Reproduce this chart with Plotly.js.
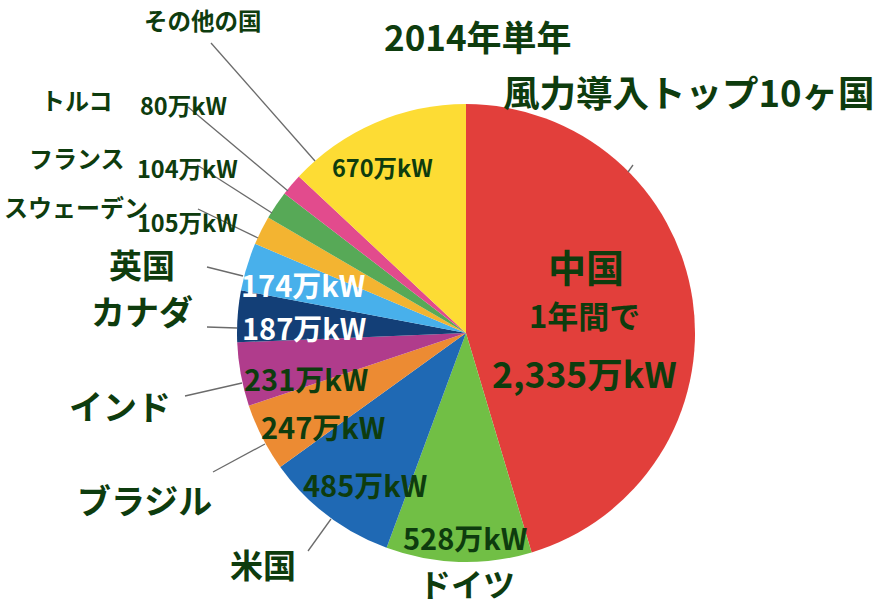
<!DOCTYPE html>
<html><head><meta charset="utf-8">
<script src="https://cdn.plot.ly/plotly-3.0.1.min.js"></script>
<style>html,body{margin:0;padding:0;background:#fff}</style>
</head><body><div id="chart" style="width:876px;height:607px"></div>
<script>
// ---- data ----
const countries = ['中国','ドイツ','米国','ブラジル','インド','カナダ','英国','スウェーデン','フランス','トルコ','その他の国'];
const values = [2335, 528, 485, 247, 231, 187, 174, 105, 104, 80, 670];
const unit = '万kW';
const titleLines = ['2014年単年', '風力導入トップ10ヶ国'];
const chinaSub = '1年間で';

// ---- styles ----
const colors = ['#E23F3B','#71BF45','#1F69B4','#EC8B33','#B03C8C','#133F77','#48B0EB','#F3B431','#57A957','#E24B8D','#FDDC34'];
const ink = '#0E3C0E';
const W = 876, H = 607;
const cx = 466, cy = 333, R = 229;

// label placement (pixel centres)
const countryPos = [null,[467,583],[263,564],[144,499],[120,405],[142,310],[142,264],[76,207],[77,157],[77,100],[203,20]];
const countrySize = [0,32,33,34,34,34,33,24,24,24,23.5];
const valuePos = [null,[465,537],[365,484],[323,426],[306,378],[304,327],[303,284],[187,222],[187,168],[183,105],[382,167]];
const valueSize = [0,29,29,29,29,29,29,23.5,23.5,23.5,23.5];
const valueColor = [ink,ink,ink,ink,ink,'#ffffff','#ffffff',ink,ink,ink,ink];
const leaders = [[[628,172],[633,165]],null,[[308,551],[331,519]],[[213,472],[265,444]],[[185,396],[242,383]],[[207,327],[237,328]],[[207,267],[243,276]],[[198,209],[258,238]],[[197,165],[272,213]],[[188,107],[288,191]],[[211,43],[315,161]]];

const px = x => x / W, py = y => 1 - y / H;
const fam = '"Noto Sans CJK JP", "Noto Sans", sans-serif';
const fmt = v => v.toLocaleString('en-US') + unit;

const annotations = [];
function addText(text, pos, size, color) {
  annotations.push({text: text, x: px(pos[0]), y: py(pos[1]), xref: 'paper', yref: 'paper',
    xanchor: 'center', yanchor: 'middle', showarrow: false,
    font: {family: fam, size: size, color: color, weight: 700}});
}
for (let i = 1; i < countries.length; i++) {
  addText(countries[i], countryPos[i], countrySize[i], ink);
  addText(fmt(values[i]), valuePos[i], valueSize[i], valueColor[i]);
}
addText(countries[0], [586, 265], 38, ink);
addText(chinaSub, [584, 314], 31, ink);
addText(fmt(values[0]), [584, 372], 35.5, ink);
addText(titleLines[0], [478, 35], 35, ink);
addText(titleLines[1], [689, 92], 36.5, ink);

const shapes = leaders.filter(Boolean).map(l => ({type: 'line', xref: 'paper', yref: 'paper',
  x0: px(l[0][0]), y0: py(l[0][1]), x1: px(l[1][0]), y1: py(l[1][1]),
  line: {color: '#6b6b6b', width: 1.3}}));

const trace = {
  type: 'pie', labels: countries, values: values, sort: false, direction: 'clockwise', rotation: 0,
  marker: {colors: colors, line: {width: 0}}, textinfo: 'none', hoverinfo: 'label+value',
  domain: {x: [px(cx - R), px(cx + R)], y: [py(cy + R), py(cy - R)]}
};
const layout = {width: W, height: H, margin: {l: 0, r: 0, t: 0, b: 0}, showlegend: false,
  paper_bgcolor: '#ffffff', annotations: annotations, shapes: shapes};
Plotly.newPlot('chart', [trace], layout, {displayModeBar: false, staticPlot: true});
</script></body></html>
